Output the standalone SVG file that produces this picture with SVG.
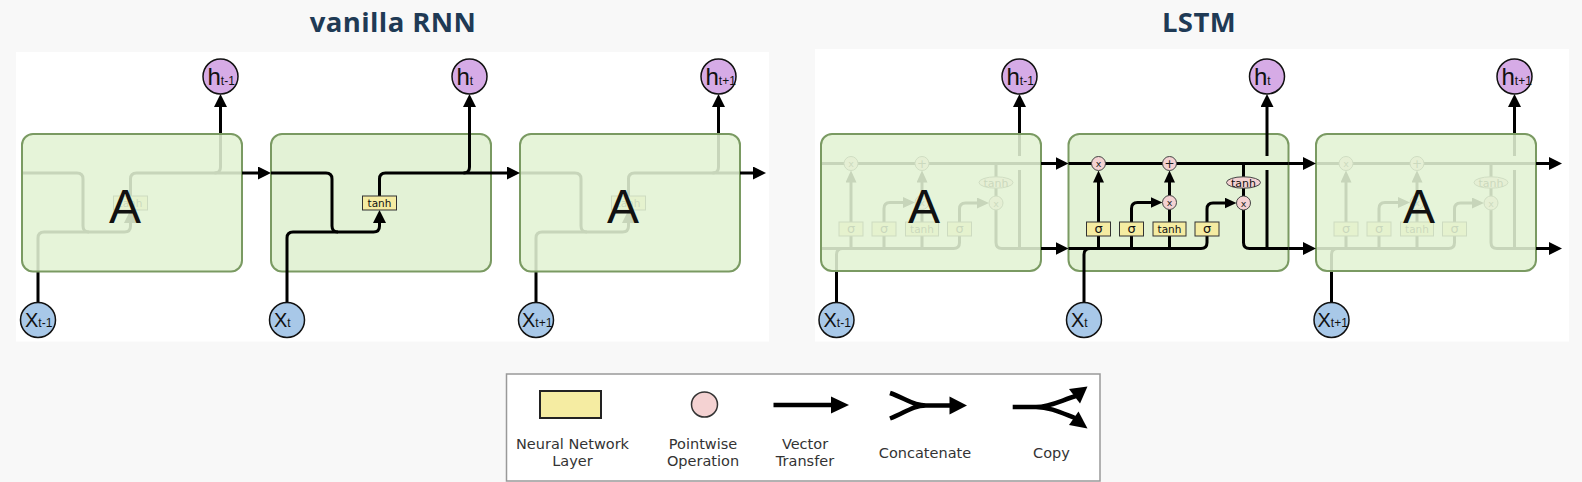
<svg xmlns="http://www.w3.org/2000/svg" xmlns:xlink="http://www.w3.org/1999/xlink" width="1582" height="482" viewBox="0 0 1582 482">
<style>
.ln{fill:none;stroke:#000;stroke-width:3}
.cell{fill:#e3f2d6;stroke:#7a9a62;stroke-width:2}
.fade{fill:#e2f2d4;fill-opacity:0.88;stroke:#7a9a62;stroke-width:2}
.nn{fill:#f5eca2;stroke:#333;stroke-width:1}
.pw{fill:#f4d2d2;stroke:#444;stroke-width:1}
.lt{font-family:"DejaVu Sans",sans-serif;font-size:10.5px;text-anchor:middle;fill:#111}
.sg{font-family:"DejaVu Sans",sans-serif;font-size:13px;text-anchor:middle;fill:#111}
.px{font-family:"DejaVu Sans",sans-serif;font-size:9.5px;text-anchor:middle;fill:#222}
.big{font-family:"Liberation Sans",sans-serif;font-size:48px;text-anchor:middle;fill:#111}
.hc{fill:#d6abe6;stroke:#111;stroke-width:1.5}
.xc{fill:#a8c8e8;stroke:#111;stroke-width:1.5}
.lab{font-family:"Liberation Sans",sans-serif;fill:#111}
.title{font-family:"Open Sans",sans-serif;font-weight:700;font-size:27.5px;letter-spacing:0.4px;text-anchor:middle;fill:#1f3a55}
.leg{font-family:"DejaVu Sans",sans-serif;font-size:14.5px;text-anchor:middle;fill:#333}
</style>
<defs>
<marker id="ah" markerUnits="userSpaceOnUse" markerWidth="13" markerHeight="13" viewBox="0 0 13 13" refX="7" refY="6.5" orient="auto"><path d="M0 0 L13 6.5 L0 13 z" fill="#000"/></marker>
<marker id="as" markerUnits="userSpaceOnUse" markerWidth="12" markerHeight="11" viewBox="0 0 12 11" refX="6" refY="5.5" orient="auto"><path d="M0 0 L12 5.5 L0 11 z" fill="#000"/></marker>
<g id="vIn">
<path class="ln" d="M0 39 H55 Q61 39 61 45 V92 Q61 98 67 98 H102.5 Q108.5 98 108.5 92 V82" marker-end="url(#ah)"/>
<path class="ln" d="M16 169 V104 Q16 98 22 98 H67"/>
<path class="ln" d="M108.5 62 V45 Q108.5 39 114.5 39 H220"/>
<path class="ln" d="M192.5 39 Q198.5 39 198.5 33 V-34" marker-end="url(#ah)"/>
<rect class="nn" x="91.5" y="62" width="34" height="14"/>
<text class="lt" x="108.5" y="72.5">tanh</text>
</g>
<g id="lIn">
<path class="ln" d="M0 29.5 H220"/>
<path class="ln" d="M0 114.5 H132.5 Q138.5 114.5 138.5 108.5 V102"/>
<path class="ln" d="M15.5 169 V120.5 Q15.5 114.5 21.5 114.5"/>
<path class="ln" d="M30 114.5 V102 M63 114.5 V102 M101 114.5 V102"/>
<path class="ln" d="M30 88 V42.5" marker-end="url(#as)"/>
<path class="ln" d="M63 88 V74.5 Q63 68.5 69 68.5 H88" marker-end="url(#as)"/>
<path class="ln" d="M101 88 V75.5"/>
<path class="ln" d="M101 61.5 V42.5" marker-end="url(#as)"/>
<path class="ln" d="M138.5 88 V75 Q138.5 69 144.5 69 H162" marker-end="url(#as)"/>
<path class="ln" d="M175 29.5 V43 M175 54 V62"/>
<path class="ln" d="M175 76 V108.5 Q175 114.5 181 114.5 H220"/>
<path class="ln" d="M198.5 114.5 V36"/>
<path class="ln" d="M198.5 22 V-34" marker-end="url(#ah)"/>
<rect class="nn" x="18" y="88" width="24" height="14"/>
<rect class="nn" x="51" y="88" width="24" height="14"/>
<rect class="nn" x="84.5" y="88" width="33" height="14"/>
<rect class="nn" x="126.5" y="88" width="24" height="14"/>
<text class="sg" x="30" y="98.5">σ</text>
<text class="sg" x="63" y="98.5">σ</text>
<text class="lt" x="101" y="99">tanh</text>
<text class="sg" x="138.5" y="98.5">σ</text>
<circle class="pw" cx="30" cy="29.5" r="7"/>
<circle class="pw" cx="101" cy="29.5" r="7"/>
<circle class="pw" cx="101" cy="68.5" r="7"/>
<circle class="pw" cx="175" cy="69" r="7"/>
<text class="px" x="30" y="33">x</text>
<text class="px" x="101" y="33.5" style="font-size:12px">+</text>
<text class="px" x="101" y="72">x</text>
<text class="px" x="175" y="72.5">x</text>
<ellipse class="pw" cx="175" cy="48.5" rx="17" ry="5.7"/>
<text class="lt" x="175" y="52.5" style="font-size:11px">tanh</text>
</g>
</defs>

<rect x="0" y="0" width="1582" height="482" fill="#f8f8f8"/>
<text class="title" x="393" y="31.5">vanilla RNN</text>
<text class="title" x="1199" y="31.5">LSTM</text>
<rect x="16" y="52" width="753" height="289.5" fill="#fff"/>
<rect x="815" y="49" width="754" height="292.5" fill="#fff"/>

<!-- vanilla RNN cells -->
<g id="rnn-cell-1">
<use xlink:href="#vIn" href="#vIn" transform="translate(22,134)"/>
<rect class="fade" x="22" y="134" width="220" height="137.5" rx="11"/>
<text class="big" x="125" y="223">A</text>
</g>
<g id="rnn-cell-2">
<rect class="cell" x="271" y="134" width="220" height="137.5" rx="11"/>
<use xlink:href="#vIn" href="#vIn" transform="translate(271,134)"/>
</g>
<g id="rnn-cell-3">
<use xlink:href="#vIn" href="#vIn" transform="translate(520,134)"/>
<rect class="fade" x="520" y="134" width="220" height="137.5" rx="11"/>
<text class="big" x="623" y="223">A</text>
</g>

<!-- LSTM cells -->
<g id="lstm-cell-1">
<use xlink:href="#lIn" href="#lIn" transform="translate(821,134)"/>
<rect class="fade" x="821" y="134" width="220" height="137" rx="11"/>
<text class="big" x="924" y="223">A</text>
</g>
<g id="lstm-cell-2">
<rect class="cell" x="1068.5" y="134" width="220" height="137" rx="11"/>
<use xlink:href="#lIn" href="#lIn" transform="translate(1068.5,134)"/>
</g>
<g id="lstm-cell-3">
<use xlink:href="#lIn" href="#lIn" transform="translate(1316,134)"/>
<rect class="fade" x="1316" y="134" width="220" height="137" rx="11"/>
<text class="big" x="1419" y="223">A</text>
</g>

<!-- connectors between cells -->
<g id="connectors">
<path class="ln" d="M242 173 H265" marker-end="url(#ah)"/>
<path class="ln" d="M491 173 H514" marker-end="url(#ah)"/>
<path class="ln" d="M740 173 H760" marker-end="url(#ah)"/>
<path class="ln" d="M1041 163.5 H1062.5" marker-end="url(#ah)"/>
<path class="ln" d="M1041 248.5 H1062.5" marker-end="url(#ah)"/>
<path class="ln" d="M1288.5 163.5 H1310" marker-end="url(#ah)"/>
<path class="ln" d="M1288.5 248.5 H1310" marker-end="url(#ah)"/>
<path class="ln" d="M1536 163.5 H1556" marker-end="url(#ah)"/>
<path class="ln" d="M1536 248.5 H1556" marker-end="url(#ah)"/>
</g>

<!-- output nodes h -->
<g id="h-rnn-1"><circle class="hc" cx="220.5" cy="76.5" r="17.5"/><text class="lab" x="207.5" y="85" font-size="24">h<tspan font-size="12">t-1</tspan></text></g>
<g id="h-rnn-2"><circle class="hc" cx="469.5" cy="76.5" r="17.5"/><text class="lab" x="456.5" y="85" font-size="24">h<tspan font-size="12">t</tspan></text></g>
<g id="h-rnn-3"><circle class="hc" cx="718.5" cy="76.5" r="17.5"/><text class="lab" x="705.5" y="85" font-size="24">h<tspan font-size="12">t+1</tspan></text></g>
<g id="h-lstm-1"><circle class="hc" cx="1019.5" cy="76.5" r="17.5"/><text class="lab" x="1006.5" y="85" font-size="24">h<tspan font-size="12">t-1</tspan></text></g>
<g id="h-lstm-2"><circle class="hc" cx="1267" cy="76.5" r="17.5"/><text class="lab" x="1254" y="85" font-size="24">h<tspan font-size="12">t</tspan></text></g>
<g id="h-lstm-3"><circle class="hc" cx="1514.5" cy="76.5" r="17.5"/><text class="lab" x="1501.5" y="85" font-size="24">h<tspan font-size="12">t+1</tspan></text></g>

<!-- input nodes x -->
<g id="x-rnn-1"><circle class="xc" cx="38" cy="320" r="17.5"/><text class="lab" x="25" y="327" font-size="20">X<tspan font-size="12">t-1</tspan></text></g>
<g id="x-rnn-2"><circle class="xc" cx="287" cy="320" r="17.5"/><text class="lab" x="274" y="327" font-size="20">X<tspan font-size="12">t</tspan></text></g>
<g id="x-rnn-3"><circle class="xc" cx="536" cy="320" r="17.5"/><text class="lab" x="522" y="327" font-size="20">X<tspan font-size="12">t+1</tspan></text></g>
<g id="x-lstm-1"><circle class="xc" cx="836.5" cy="320" r="17.5"/><text class="lab" x="823.5" y="327" font-size="20">X<tspan font-size="12">t-1</tspan></text></g>
<g id="x-lstm-2"><circle class="xc" cx="1084" cy="320" r="17.5"/><text class="lab" x="1071" y="327" font-size="20">X<tspan font-size="12">t</tspan></text></g>
<g id="x-lstm-3"><circle class="xc" cx="1331.5" cy="320" r="17.5"/><text class="lab" x="1317.5" y="327" font-size="20">X<tspan font-size="12">t+1</tspan></text></g>

<!-- legend -->
<g id="legend">
<rect x="506.5" y="374" width="593.5" height="107" fill="#fff" stroke="#999" stroke-width="1.5"/>
<rect x="540" y="391" width="61" height="27" fill="#f5eca2" stroke="#222" stroke-width="2"/>
<text class="leg" x="572.5" y="448.5">Neural Network</text>
<text class="leg" x="572.5" y="465.5">Layer</text>
<ellipse cx="704.5" cy="404.5" rx="13" ry="12.5" fill="#f4d2d2" stroke="#333" stroke-width="1.5"/>
<text class="leg" x="703" y="448.5">Pointwise</text>
<text class="leg" x="703" y="465.5">Operation</text>
<path d="M773.5 405 H834" fill="none" stroke="#000" stroke-width="4.5"/>
<polygon points="831,396.5 849,405 831,413.5" fill="#000"/>
<text class="leg" x="805" y="448.5">Vector</text>
<text class="leg" x="805" y="465.5">Transfer</text>
<path d="M890 393 C905 398 912 405.5 926 405.5 M890 418.5 C905 413 912 405.5 926 405.5 H952" fill="none" stroke="#000" stroke-width="4.5"/>
<polygon points="949.5,396.5 967,405.5 949.5,414.5" fill="#000"/>
<text class="leg" x="925" y="457.5">Concatenate</text>
<path d="M1012.7 407 H1036 C1050 407 1062 400 1076 396 M1036 407 C1050 407 1062 413 1075 418" fill="none" stroke="#000" stroke-width="4.5"/>
<polygon points="1069,389 1087.5,386.5 1080,403.5" fill="#000"/>
<polygon points="1069,425 1087.5,428.5 1078.5,411.5" fill="#000"/>
<text class="leg" x="1051.5" y="457.5">Copy</text>
</g>
</svg>
